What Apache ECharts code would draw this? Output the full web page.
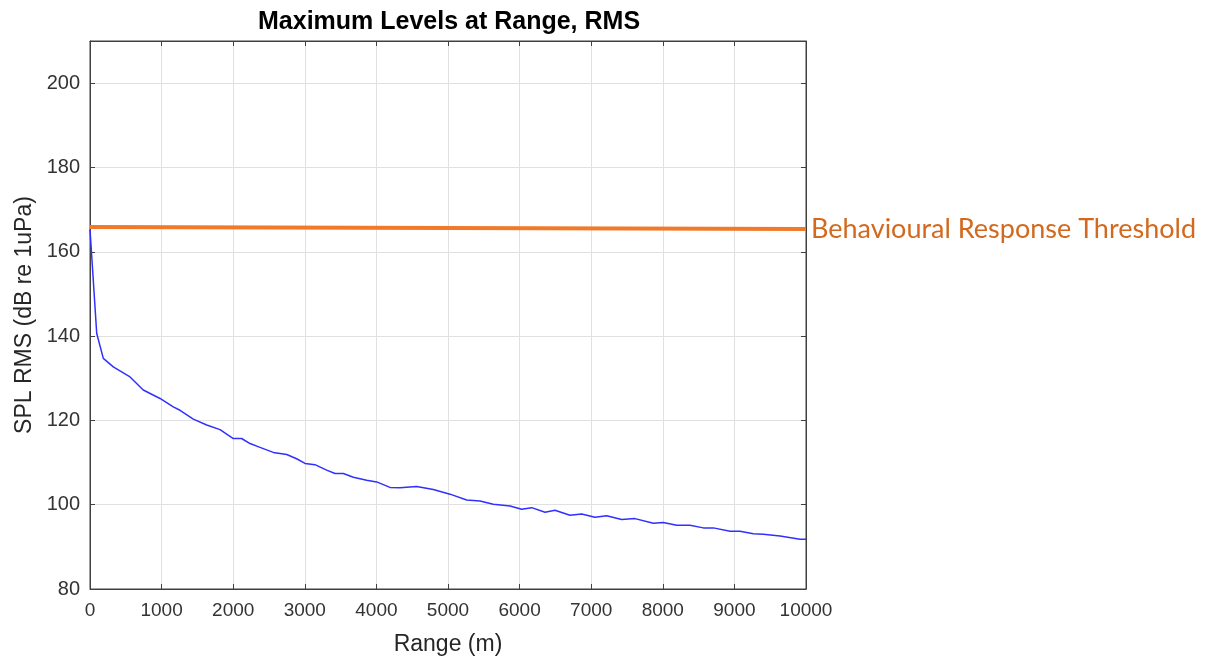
<!DOCTYPE html>
<html>
<head>
<meta charset="utf-8">
<script src="https://cdn.jsdelivr.net/npm/echarts@6/dist/echarts.min.js"></script>
<style>html,body{margin:0;padding:0;background:#fff;}#c{width:1232px;height:661px;}</style>
</head>
<body>
<div id="c"></div>
<script>
const titleText = 'Maximum Levels at Range, RMS';
const xName = 'Range (m)';
const yName = 'SPL RMS (dB re 1uPa)';
const thresholdName = 'Behavioural Response Threshold';

const rangeM = [0, 94, 186, 325, 559, 744, 978, 1163, 1257, 1443, 1630, 1816, 2002, 2118, 2235, 2374, 2560, 2747, 2886, 3003, 3142, 3305, 3422, 3538, 3678, 3864, 4004, 4190, 4330, 4562, 4795, 5028, 5261, 5447, 5633, 5866, 6029, 6169, 6355, 6494, 6704, 6867, 7053, 7216, 7425, 7612, 7868, 8007, 8194, 8380, 8566, 8706, 8939, 9078, 9264, 9404, 9637, 9916, 10000];
const splRms = [165.3, 140.6, 134.7, 132.7, 130.3, 127.2, 125.2, 123.2, 122.4, 120.3, 118.9, 117.8, 115.7, 115.7, 114.5, 113.6, 112.4, 111.9, 110.9, 109.8, 109.5, 108.2, 107.4, 107.4, 106.5, 105.8, 105.4, 104.1, 104.0, 104.3, 103.6, 102.5, 101.1, 100.9, 100.1, 99.7, 98.9, 99.3, 98.2, 98.7, 97.5, 97.8, 97.0, 97.4, 96.5, 96.7, 95.6, 95.8, 95.1, 95.1, 94.5, 94.5, 93.7, 93.7, 93.1, 93.0, 92.6, 91.8, 91.8];

const thresholdX = [0, 10000];
const thresholdY = [165.9, 165.4];

const xTicks = [0, 1000, 2000, 3000, 4000, 5000, 6000, 7000, 8000, 9000, 10000];
const yTicks = [80, 100, 120, 140, 160, 180, 200];

const chart = echarts.init(document.getElementById('c'), null, {renderer: 'canvas'});
const font = 'Liberation Sans, Arial, sans-serif';
const frameColor = '#404040';
const tickLen = 5;

const option = {
  animation: false,
  backgroundColor: '#fff',
  graphic: [{
    type: 'text', left: 258, top: 10,
    style: { text: titleText, font: 'bold 25px ' + font, fill: '#000' }
  }],
  grid: { left: 90, right: 426, top: 41, bottom: 72, show: true, borderColor: frameColor, borderWidth: 1, containLabel: false },
  xAxis: [{
    type: 'value', min: 0, max: 10000, interval: 1000,
    name: xName, nameLocation: 'middle', nameGap: 44,
    nameTextStyle: { fontFamily: font, fontSize: 23, color: '#262626' },
    axisLine: { show: true, onZero: false, lineStyle: { color: frameColor } },
    axisTick: { show: true, inside: true, length: tickLen, lineStyle: { color: frameColor } },
    axisLabel: { inside: false, fontFamily: font, fontSize: 19, color: '#333', margin: 12,
      formatter: v => xTicks.indexOf(v) >= 0 ? String(v) : '' },
    splitLine: { show: true, lineStyle: { color: '#e0e0e0', width: 1 } }
  }, {
    type: 'value', position: 'top', min: 0, max: 10000, interval: 1000,
    axisLine: { show: true, onZero: false, lineStyle: { color: frameColor } },
    axisTick: { show: true, inside: true, length: tickLen, lineStyle: { color: frameColor } },
    axisLabel: { show: false }, splitLine: { show: false }
  }],
  yAxis: [{
    type: 'value', min: 80, max: 210, interval: 20,
    name: yName, nameLocation: 'middle', nameGap: 54,
    nameTextStyle: { fontFamily: font, fontSize: 23, color: '#262626' },
    axisLine: { show: true, onZero: false, lineStyle: { color: frameColor } },
    axisTick: { show: true, inside: true, length: tickLen, lineStyle: { color: frameColor } },
    axisLabel: { inside: false, fontFamily: font, fontSize: 20, color: '#333', margin: 10, showMaxLabel: false,
      formatter: v => yTicks.indexOf(v) >= 0 ? String(v) : '' },
    splitLine: { show: true, lineStyle: { color: '#e0e0e0', width: 1 } }
  }, {
    type: 'value', position: 'right', min: 80, max: 210, interval: 20,
    axisLine: { show: true, onZero: false, lineStyle: { color: frameColor } },
    axisTick: { show: true, inside: true, length: tickLen, lineStyle: { color: frameColor } },
    axisLabel: { show: false }, splitLine: { show: false }
  }],
  series: [{
    name: 'SPL', type: 'line', xAxisIndex: 0, yAxisIndex: 0,
    data: rangeM.map((x, i) => [x, splRms[i]]),
    showSymbol: false, symbol: 'none', smooth: false,
    lineStyle: { color: '#3030ff', width: 1.5 }, z: 3
  }, {
    name: thresholdName, type: 'line', xAxisIndex: 0, yAxisIndex: 0,
    data: thresholdX.map((x, i) => [x, thresholdY[i]]),
    showSymbol: false, symbol: 'none',
    lineStyle: { color: '#f07a2a', width: 4 }, z: 2,
    endLabel: { show: true, formatter: thresholdName, distance: 5,
      fontFamily: 'Lato, Open Sans, sans-serif', fontSize: 27, color: '#d2691e' }
  }]
};
chart.setOption(option);
</script>
</body>
</html>
